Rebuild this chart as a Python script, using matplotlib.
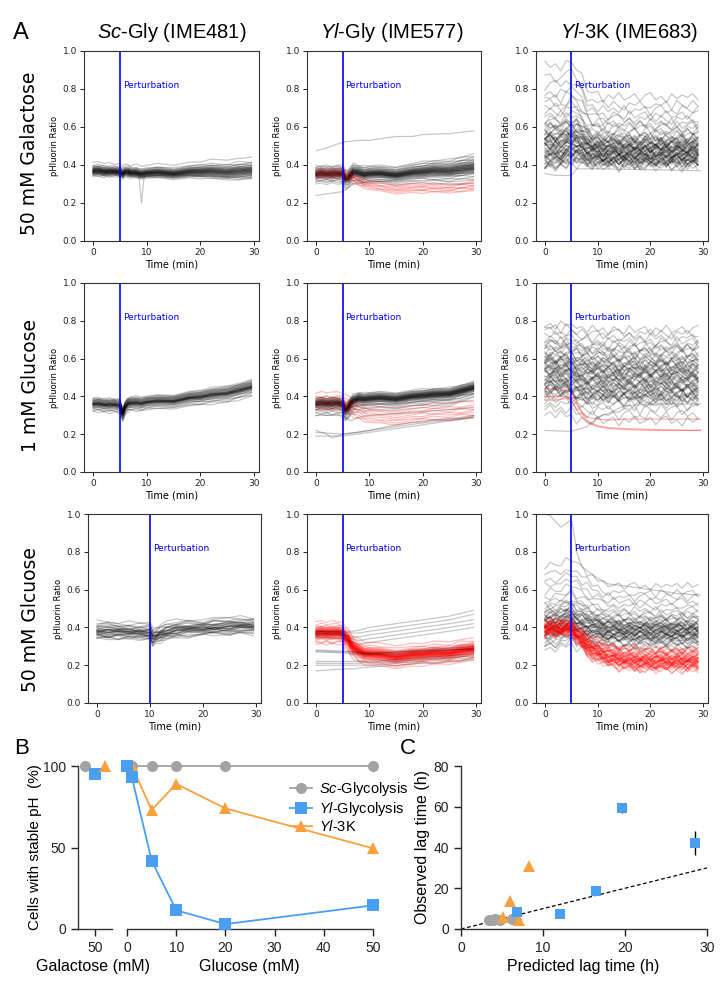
import numpy as np
import matplotlib
matplotlib.use("Agg")
import matplotlib.pyplot as plt

plt.rcParams['font.family'] = ['Liberation Sans', 'DejaVu Sans']
plt.rcParams['mathtext.fontset'] = 'custom'
plt.rcParams['mathtext.rm'] = 'Liberation Sans'
plt.rcParams['mathtext.it'] = 'Liberation Sans:italic'

# ---------------- panel A data (pHluorin ratio traces) ----------------
t5 = [0, 1, 2, 3, 4, 5, 5.5, 6, 6.5, 7, 8, 9, 10, 12, 15, 18, 20, 22, 25, 27, 29.5]
t10 = [0, 2, 4, 6, 8, 10, 10.5, 11, 12, 13, 15, 17, 20, 22, 25, 27, 29.5]
t3k = list(range(30))

# cell-to-cell fluctuation patterns seen in the traces
wiggle_a = [0, .015, -.01, .02, -.005, .01, -.02, .015, .0, -.015, .02, -.01, .005, .015, -.02,
            .01, -.005, .02, -.01, .0, .015, -.015, .01, .02, -.01, .005, -.02, .015, -.005, .01]
wiggle_b = [.01, -.01, .02, -.015, .005, .0, .015, -.02, .01, .02, -.01, .0, -.015, .02, .005,
            -.01, .015, -.02, .01, .02, -.005, .01, -.015, .0, .02, -.01, .01, -.015, .02, -.005]
wiggle_c = [-.01, .005, .0, .015, -.02, .02, .0, -.01, .02, -.005, .01, .015, -.02, .0, .015,
            .02, -.01, .005, -.015, .01, .0, .02, -.01, .015, -.005, -.02, .01, .0, .015, -.01]

# row 1: 50 mM galactose
gal_sc_mean = [0.37, 0.368, 0.366, 0.365, 0.364, 0.362, 0.358, 0.36, 0.362, 0.36, 0.358,
               0.355, 0.356, 0.358, 0.36, 0.362, 0.364, 0.365, 0.366, 0.367, 0.368]
gal_sc_spread = [1, 1, 1, .9, .9, .9, .9, .9, .9, .9, .9, .9, .9, 1, 1, 1.1, 1.2, 1.3, 1.4, 1.5, 1.5]
gal_sc_offsets = [-0.03, -0.025, -0.022, -0.02, -0.018, -0.016, -0.015, -0.013, -0.012, -0.01,
                  -0.009, -0.008, -0.007, -0.006, -0.005, -0.004, -0.003, -0.002, -0.001, 0.0,
                  0.0, 0.001, 0.002, 0.003, 0.004, 0.005, 0.006, 0.007, 0.008, 0.009,
                  0.01, 0.012, 0.013, 0.015, 0.017, 0.02, 0.022, 0.026, 0.03, 0.045]
gal_sc_extra_t = [[0, 5, 8.5, 9, 9.5, 15, 29.5]]
gal_sc_extra_v = [[0.36, 0.36, 0.35, 0.2, 0.34, 0.35, 0.33]]

gal_yl_mean = [0.35, 0.35, 0.35, 0.35, 0.35, 0.35, 0.33, 0.325, 0.345, 0.36, 0.355,
               0.35, 0.35, 0.35, 0.35, 0.355, 0.36, 0.365, 0.37, 0.375, 0.38]
gal_yl_spread = [1, 1, 1, 1, 1, 1, 1, 1, 1, 1, 1, 1, 1, 1, 1, 1.1, 1.2, 1.3, 1.4, 1.5, 1.6]
gal_yl_offsets = [-0.04, -0.03, -0.025, -0.02, -0.018, -0.015, -0.013, -0.011, -0.01, -0.008,
                  -0.007, -0.006, -0.005, -0.004, -0.003, -0.002, -0.001, 0, 0, 0.001,
                  0.002, 0.003, 0.004, 0.005, 0.006, 0.007, 0.008, 0.009, 0.01, 0.011,
                  0.012, 0.013, 0.015, 0.016, 0.018, 0.02, 0.022, 0.025, 0.028, 0.03,
                  0.035, 0.04, -0.05, 0.045, -0.035]
gal_yl_red_mean = [0.35, 0.35, 0.35, 0.35, 0.35, 0.35, 0.34, 0.335, 0.33, 0.325, 0.31,
                   0.3, 0.29, 0.28, 0.275, 0.272, 0.272, 0.274, 0.276, 0.278, 0.28]
gal_yl_red_offsets = [-0.02, -0.012, -0.006, 0, 0.006, 0.012, 0.02, 0.028]
gal_yl_extra_t = [[0, 2, 5, 8, 10, 15, 18, 20, 25, 29.5],
                  [0, 5, 7, 10, 15, 20, 29.5]]
gal_yl_extra_v = [[0.475, 0.49, 0.52, 0.53, 0.53, 0.55, 0.55, 0.56, 0.565, 0.58],
                  [0.24, 0.26, 0.3, 0.31, 0.32, 0.34, 0.36]]

gal_3k_mean = [0.5, 0.5, 0.5, 0.5, 0.51, 0.52, 0.52, 0.5, 0.485, 0.48, 0.475, 0.47, 0.47, 0.47, 0.47,
               0.47, 0.47, 0.47, 0.47, 0.47, 0.47, 0.47, 0.47, 0.47, 0.47, 0.47, 0.47, 0.47, 0.47, 0.47]
gal_3k_spread = [1, 1, 1, 1, 1, 1, .95, .85, .75, .7, .7] + [.68] * 19
gal_3k_offsets = [-0.12, -0.11, -0.1, -0.1, -0.09, -0.09, -0.08, -0.08, -0.07, -0.07,
                  -0.06, -0.06, -0.05, -0.05, -0.04, -0.04, -0.03, -0.03, -0.02, -0.02,
                  -0.01, -0.01, 0, 0, 0.01, 0.01, 0.02, 0.02, 0.03, 0.03,
                  0.04, 0.04, 0.05, 0.05, 0.06, 0.06, 0.07, 0.08, 0.09, 0.1,
                  0.11, 0.12, 0.14, 0.16, 0.18, 0.2, 0.22, 0.25, 0.28, 0.32,
                  0.36, 0.42, 0.0, -0.05, 0.02, 0.04, -0.03, 0.08, -0.06, 0.1]
gal_3k_extra_t = [[0, 2, 5, 6, 10, 29.5]]
gal_3k_extra_v = [[0.355, 0.345, 0.345, 0.38, 0.38, 0.37]]

# row 2: 1 mM glucose
glc1_sc_mean = [0.36, 0.358, 0.356, 0.355, 0.354, 0.35, 0.31, 0.34, 0.36, 0.365, 0.365,
                0.365, 0.368, 0.372, 0.38, 0.39, 0.395, 0.405, 0.42, 0.43, 0.445]
glc1_sc_spread = [1, 1, 1, 1, 1, 1, 1, 1, 1, 1, 1, 1, 1, 1, 1, 1.05, 1.1, 1.15, 1.2, 1.2, 1.2]
glc1_sc_offsets = [-0.03, -0.025, -0.02, -0.018, -0.015, -0.012, -0.01, -0.008, -0.006, -0.005,
                   -0.004, -0.003, -0.002, -0.001, 0, 0, 0.001, 0.002, 0.003, 0.004,
                   0.005, 0.006, 0.008, 0.01, 0.012, 0.014, 0.016, 0.018, 0.02, 0.022,
                   0.025, 0.028, -0.035, 0.032, -0.04]

glc1_yl_mean = [0.36, 0.36, 0.36, 0.36, 0.36, 0.355, 0.33, 0.335, 0.36, 0.375, 0.385,
                0.385, 0.385, 0.387, 0.39, 0.395, 0.4, 0.405, 0.415, 0.425, 0.44]
glc1_yl_spread = [1] * 21
glc1_yl_offsets = [-0.035, -0.03, -0.025, -0.02, -0.018, -0.015, -0.013, -0.011, -0.01, -0.008,
                   -0.007, -0.006, -0.005, -0.004, -0.003, -0.002, -0.001, 0, 0, 0.001,
                   0.002, 0.003, 0.004, 0.005, 0.006, 0.007, 0.008, 0.009, 0.01, 0.011,
                   0.012, 0.013, 0.015, 0.016, 0.018, 0.02, 0.022, 0.025, 0.028, 0.03,
                   -0.05, -0.06, -0.045, 0.035, -0.028]
glc1_yl_red_mean = [0.37, 0.37, 0.37, 0.37, 0.37, 0.37, 0.36, 0.35, 0.34, 0.33, 0.32,
                    0.31, 0.3, 0.295, 0.295, 0.3, 0.305, 0.31, 0.315, 0.318, 0.32]
glc1_yl_red_offsets = [-0.04, -0.03, -0.02, -0.01, 0, 0.01, 0.02, 0.03, 0.05]
glc1_yl_extra_t = [[0, 5, 6.5, 8, 10, 15, 20, 25, 29.5],
                   [0, 2, 3, 5, 8, 10, 15, 20, 25, 29.5],
                   [0, 5, 10, 15, 20, 25, 29.5],
                   [0, 5, 10, 15, 20, 29.5]]
glc1_yl_extra_v = [[0.3, 0.3, 0.27, 0.29, 0.3, 0.31, 0.32, 0.33, 0.34],
                   [0.22, 0.2, 0.18, 0.2, 0.21, 0.22, 0.25, 0.27, 0.28, 0.3],
                   [0.19, 0.19, 0.21, 0.23, 0.25, 0.27, 0.29],
                   [0.21, 0.2, 0.22, 0.24, 0.26, 0.29]]

glc1_3k_mean = [0.52] * 5 + [0.51, 0.5, 0.49] + [0.49] * 22
glc1_3k_spread = [1] * 30
glc1_3k_offsets = [-0.22, -0.19, -0.16, -0.14, -0.12, -0.11, -0.1, -0.09, -0.08, -0.08,
                   -0.07, -0.06, -0.06, -0.05, -0.04, -0.04, -0.03, -0.02, -0.02, -0.01,
                   0, 0, 0.01, 0.02, 0.02, 0.03, 0.04, 0.04, 0.05, 0.06,
                   0.06, 0.07, 0.08, 0.08, 0.09, 0.1, 0.1, 0.11, 0.12, 0.13,
                   0.14, 0.15, 0.16, 0.17, 0.18, 0.2, 0.22, 0.24, 0.26, -0.1,
                   -0.11, -0.09, 0.0, 0.03, 0.05, -0.05, 0.07, -0.03, 0.01, -0.07]
glc1_3k_red_t = [0, 2, 4, 5, 6, 7, 8, 10, 12, 15, 20, 25, 29.5]
glc1_3k_red_v = [[0.4, 0.4, 0.4, 0.39, 0.36, 0.32, 0.29, 0.28, 0.275, 0.28, 0.28, 0.28, 0.28],
                 [0.38, 0.38, 0.39, 0.38, 0.33, 0.29, 0.26, 0.24, 0.23, 0.225, 0.22, 0.22, 0.22],
                 [0.44, 0.44, 0.43, 0.42, 0.37, 0.31, 0.27, 0.245, 0.235, 0.23, 0.225, 0.222, 0.22]]
glc1_3k_extra_t = [[0, 5, 8, 10, 12, 15, 20, 29.5]]
glc1_3k_extra_v = [[0.22, 0.215, 0.24, 0.29, 0.31, 0.35, 0.36, 0.36]]

# row 3: 50 mM glucose
glc50_sc_mean = [0.38, 0.378, 0.376, 0.375, 0.375, 0.372, 0.345, 0.35, 0.365, 0.375,
                 0.385, 0.39, 0.395, 0.4, 0.402, 0.405, 0.405]
glc50_sc_spread = [1] * 17
glc50_sc_offsets = [-0.035, -0.03, -0.025, -0.02, -0.018, -0.015, -0.012, -0.01, -0.008, -0.006,
                    -0.004, -0.002, 0, 0, 0.002, 0.004, 0.006, 0.008, 0.01, 0.012,
                    0.015, 0.018, 0.02, 0.025, 0.03, 0.04, 0.05, -0.04, 0.035, -0.028]

glc50_yl_red_mean = [0.37, 0.37, 0.37, 0.37, 0.37, 0.365, 0.35, 0.33, 0.31, 0.295, 0.275,
                     0.265, 0.258, 0.252, 0.25, 0.252, 0.256, 0.26, 0.268, 0.275, 0.28]
glc50_yl_red_spread = [1] * 21
glc50_yl_red_offsets = [-0.06, -0.045, -0.035, -0.03, -0.028, -0.025, -0.022, -0.02, -0.018, -0.016,
                        -0.015, -0.013, -0.012, -0.01, -0.009, -0.008, -0.007, -0.006, -0.005, -0.004,
                        -0.003, -0.002, -0.001, 0, 0, 0, 0.001, 0.002, 0.003, 0.004,
                        0.005, 0.006, 0.007, 0.008, 0.009, 0.01, 0.012, 0.013, 0.015, 0.016,
                        0.018, 0.02, 0.022, 0.025, 0.028, 0.03, 0.035, 0.045, 0.06, -0.05]
glc50_yl_gray_t = [0, 5, 7, 8, 10, 15, 20, 25, 29.5]
glc50_yl_gray_v = [[0.38, 0.38, 0.38, 0.385, 0.4, 0.42, 0.44, 0.46, 0.49],
                   [0.38, 0.375, 0.37, 0.37, 0.38, 0.4, 0.42, 0.44, 0.47],
                   [0.37, 0.365, 0.35, 0.35, 0.36, 0.38, 0.4, 0.42, 0.44],
                   [0.36, 0.36, 0.34, 0.33, 0.34, 0.36, 0.38, 0.4, 0.42],
                   [0.35, 0.34, 0.32, 0.31, 0.32, 0.34, 0.36, 0.38, 0.4],
                   [0.275, 0.27, 0.27, 0.265, 0.26, 0.27, 0.28, 0.29, 0.3],
                   [0.27, 0.265, 0.26, 0.26, 0.255, 0.26, 0.27, 0.28, 0.29],
                   [0.28, 0.275, 0.27, 0.27, 0.265, 0.27, 0.275, 0.28, 0.285],
                   [0.22, 0.22, 0.22, 0.22, 0.22, 0.23, 0.24, 0.25, 0.26],
                   [0.2, 0.2, 0.2, 0.2, 0.2, 0.21, 0.22, 0.23, 0.24],
                   [0.17, 0.18, 0.18, 0.185, 0.19, 0.2, 0.21, 0.22, 0.23],
                   [0.21, 0.21, 0.21, 0.21, 0.215, 0.22, 0.23, 0.24, 0.25]]

glc50_3k_mean = [0.4, 0.4, 0.4, 0.41, 0.42, 0.43, 0.41, 0.4, 0.395, 0.39, 0.385, 0.38, 0.378,
                 0.375, 0.373] + [0.37] * 15
glc50_3k_spread = [1] * 7 + [.95, .9, .85, .8] + [.75] * 19
glc50_3k_offsets = [-0.12, -0.1, -0.09, -0.08, -0.07, -0.06, -0.05, -0.05, -0.04, -0.04,
                    -0.03, -0.03, -0.02, -0.02, -0.01, -0.01, 0, 0, 0.01, 0.01,
                    0.02, 0.02, 0.03, 0.03, 0.04, 0.04, 0.05, 0.05, 0.06, 0.06,
                    0.07, 0.08, 0.09, 0.1, 0.11, 0.12, 0.14, 0.16, 0.19, 0.22,
                    0.25, 0.28, 0.33, 0.0, 0.02, -0.01, 0.03, 0.05, -0.03, 0.07]
glc50_3k_red_mean = [0.39] * 6 + [0.36, 0.33, 0.3, 0.28, 0.265, 0.255, 0.245, 0.238, 0.232,
                                  0.228, 0.225, 0.223] + [0.22] * 12
glc50_3k_red_spread = [.7] * 6 + [.8, .9] + [1] * 22
glc50_3k_red_offsets = [-0.05, -0.045, -0.04, -0.035, -0.03, -0.028, -0.025, -0.022, -0.02, -0.018,
                        -0.015, -0.012, -0.01, -0.008, -0.006, -0.004, -0.002, 0, 0, 0.002,
                        0.004, 0.006, 0.008, 0.01, 0.012, 0.015, 0.018, 0.02, 0.022, 0.025,
                        0.028, 0.03, 0.035, 0.04, 0.045, 0.05, 0.055, 0.06, 0.07, -0.03]
glc50_3k_extra_t = [[0, 1, 2, 3, 4, 5, 5.5, 6, 7, 8, 10, 12, 15, 20, 25, 29.5]]
glc50_3k_extra_v = [[1.0, 0.99, 0.96, 0.93, 0.95, 0.97, 0.9, 0.8, 0.72, 0.7, 0.66, 0.63, 0.62, 0.6, 0.58, 0.57]]

perturb_time = [5, 5, 5, 5, 5, 5, 10, 5, 5]

# ---------------- panel B data ----------------
gal_conc = 50
gal_sc = 100
gal_yl = 95
gal_3k = 100
glucose_mM = [0, 1, 5, 10, 20, 50]
sc_stable = [100, 100, 100, 100, 100, 100]
yl_stable = [100, 93, 42, 11.5, 3, 14.5]
k3_stable = [100, 100, 73, 89, 74, 49.5]

# ---------------- panel C data ----------------
pred_sc = [3.4, 3.9, 4.1, 4.8, 6.2]
obs_sc = [4.5, 4.3, 4.8, 4.2, 4.8]
pred_yl = [6.8, 12.1, 16.5, 19.6, 28.5]
obs_yl = [8.2, 7.5, 18.6, 59.3, 42.1]
err_yl = [0, 0, 0, 2.3, 5.9]
pred_k3 = [8.3, 6.0, 5.1, 7.1]
obs_k3 = [31.0, 13.9, 5.9, 4.2]
identity = [0, 30]

GRAY = '#a3a3a3'
BLUE = '#4a9ff2'
ORANGE = '#f9a03f'

W, H = 724, 983
fig = plt.figure(figsize=(W / 100, H / 100), dpi=100)


def box(l, t, r, b):
    return [l / W, 1 - b / H, (r - l) / W, (b - t) / H]


wiggles = [np.array(wiggle_a), np.array(wiggle_b), np.array(wiggle_c)]


def draw_band(ax, t, mean, offsets, spread, color, alpha, amp=0.0):
    mean = np.asarray(mean)
    spread = np.asarray(spread)
    n = len(mean)
    for i, o in enumerate(offsets):
        y = mean + o * spread
        if amp:
            y = y + amp * np.roll(wiggles[i % 3][:n], (i * 7) % n)
        ax.plot(t, y, color=color, alpha=alpha, lw=0.9)


col_x = [(84, 259), (307, 481), (536, 708)]
row_y = [(51, 241), (283, 472), (514, 703)]

# (t, mean, offsets, spread, red mean, red offsets, red spread, gray extra t, gray extra v, red extras, wiggle amp)
panels = [
    [(t5, gal_sc_mean, gal_sc_offsets, gal_sc_spread, None, None, None, gal_sc_extra_t, gal_sc_extra_v, [], 0.35),
     (t5, gal_yl_mean, gal_yl_offsets, gal_yl_spread, gal_yl_red_mean, gal_yl_red_offsets, 1,
      gal_yl_extra_t, gal_yl_extra_v, [], 0.35),
     (t3k, gal_3k_mean, gal_3k_offsets, gal_3k_spread, None, None, None, gal_3k_extra_t, gal_3k_extra_v, [], 1.3)],
    [(t5, glc1_sc_mean, glc1_sc_offsets, glc1_sc_spread, None, None, None, [], [], [], 0.35),
     (t5, glc1_yl_mean, glc1_yl_offsets, glc1_yl_spread, glc1_yl_red_mean, glc1_yl_red_offsets, 1,
      glc1_yl_extra_t, glc1_yl_extra_v, [], 0.35),
     (t3k, glc1_3k_mean, glc1_3k_offsets, glc1_3k_spread, None, None, None, glc1_3k_extra_t, glc1_3k_extra_v,
      [(glc1_3k_red_t, v) for v in glc1_3k_red_v], 1.3)],
    [(t10, glc50_sc_mean, glc50_sc_offsets, glc50_sc_spread, None, None, None, [], [], [], 0.5),
     (t5, None, None, None, glc50_yl_red_mean, glc50_yl_red_offsets, glc50_yl_red_spread,
      [glc50_yl_gray_t] * len(glc50_yl_gray_v), glc50_yl_gray_v, [], 0.4),
     (t3k, glc50_3k_mean, glc50_3k_offsets, glc50_3k_spread, glc50_3k_red_mean, glc50_3k_red_offsets,
      glc50_3k_red_spread, glc50_3k_extra_t, glc50_3k_extra_v, [], 1.0)],
]

for r in range(3):
    for c in range(3):
        l, rr = col_x[c]
        if r == 2 and c == 0:
            l, rr = 88, 261
        top, bot = row_y[r]
        ax = fig.add_axes(box(l, top, rr, bot))
        t, mean, offs, spread, rmean, roffs, rspread, ext_t, ext_v, red_extra, amp = panels[r][c]
        if mean is not None:
            draw_band(ax, t, mean, offs, spread, 'black', 0.22, amp)
        if rmean is not None:
            draw_band(ax, t, rmean, roffs, rspread, 'red', 0.25, amp)
        for et, ev in red_extra:
            ax.plot(et, ev, color='red', alpha=0.3, lw=0.9)
        for et, ev in zip(ext_t, ext_v):
            ax.plot(et, ev, color='black', alpha=0.22, lw=0.9)
        pt = perturb_time[r * 3 + c]
        ax.axvline(pt, color='blue', lw=1.2)
        ax.text(pt + 0.5, 0.82, 'Perturbation', color='blue', fontsize=6.5,
                family='DejaVu Sans', va='center')
        ax.set_xlim(-1.7, 30.9)
        ax.set_ylim(0, 1)
        ax.set_xticks([0, 10, 20, 30])
        ax.set_yticks([0, 0.2, 0.4, 0.6, 0.8, 1.0])
        ax.set_yticklabels(['0.0', '0.2', '0.4', '0.6', '0.8', '1.0'])
        ax.tick_params(labelsize=6.5, length=3, width=0.7, pad=2, colors='#222222')
        for lab in ax.get_xticklabels() + ax.get_yticklabels():
            lab.set_family('DejaVu Sans')
        ax.set_xlabel('Time (min)', fontsize=7, family='DejaVu Sans', labelpad=2)
        ax.set_ylabel('pHluorin Ratio', fontsize=6, family='DejaVu Sans', labelpad=3)
        for s in ax.spines.values():
            s.set_linewidth(0.8)
            s.set_color('#333333')

titles = [r'$\mathit{Sc}$-Gly (IME481)', r'$\mathit{Yl}$-Gly (IME577)', r'$\mathit{Yl}$-3K (IME683)']
title_x = [172, 392, 629]
for tx, tt in zip(title_x, titles):
    fig.text(tx / W, 1 - 33 / H, tt, fontsize=14.5, ha='center', va='center')

row_labels = ['50 mM Galactose', '1 mM Glucose', '50 mM Glcuose']
row_cy = [153, 385, 620]
for cy, lab in zip(row_cy, row_labels):
    fig.text(30 / W, 1 - cy / H, lab, rotation=90, fontsize=13.5, ha='center', va='center',
             family='DejaVu Sans')

fig.text(21 / W, 1 - 33 / H, 'A', fontsize=17, ha='center', va='center')
fig.text(22 / W, 1 - 748 / H, 'B', fontsize=16, ha='center', va='center')
fig.text(408 / W, 1 - 748 / H, 'C', fontsize=16, ha='center', va='center')

# ---------------- panel B ----------------
axg = fig.add_axes(box(78, 766, 112, 929))
axc = fig.add_axes(box(127, 766, 373, 929))
mk = dict(clip_on=False, markeredgewidth=0, zorder=5)
axg.plot([gal_conc - 6], [gal_sc], 'o', color=GRAY, ms=8, **mk)
axg.plot([gal_conc], [gal_yl], 's', color=BLUE, ms=8, **mk)
axg.plot([gal_conc + 5.6], [gal_3k], '^', color=ORANGE, ms=9, **mk)
axg.set_xlim(40, 60)
axg.set_ylim(0, 100)
axg.set_xticks([50])
axg.set_yticks([0, 50, 100])

axc.plot(glucose_mM, sc_stable, 'o-', color=GRAY, ms=8, lw=1.3, label=r'$\mathit{Sc}$-Glycolysis', **mk)
axc.plot(glucose_mM, k3_stable, '^-', color=ORANGE, ms=9, lw=1.3, label=r'$\mathit{Yl}$-3K', **mk)
axc.plot(glucose_mM, yl_stable, 's-', color=BLUE, ms=8, lw=1.3, label=r'$\mathit{Yl}$-Glycolysis', **mk)
axc.set_xlim(0, 50)
axc.set_ylim(0, 100)
axc.set_xticks([0, 10, 20, 30, 40, 50])
axc.set_yticks([])

for a in (axg, axc):
    a.spines['top'].set_visible(False)
    a.spines['right'].set_visible(False)
    for s in a.spines.values():
        s.set_color('#333333')
        s.set_linewidth(1.0)
    a.tick_params(labelsize=10, length=5, width=1.0, colors='#222222')
axc.spines['left'].set_visible(False)

h, lb = axc.get_legend_handles_labels()
order = [0, 2, 1]
fig.legend([h[i] for i in order], [lb[i] for i in order], loc='upper left',
           bbox_to_anchor=(283 / W, 1 - 773 / H), frameon=False, fontsize=10.5,
           handlelength=1.5, handletextpad=0.5, labelspacing=0.1, borderpad=0)

fig.text(35 / W, 1 - 847 / H, 'Cells with stable pH  (%)', rotation=90, fontsize=11,
         ha='center', va='center')
fig.text(93 / W, 1 - 967 / H, 'Galactose (mM)', fontsize=11.5, ha='center', va='center')
fig.text(249 / W, 1 - 967 / H, 'Glucose (mM)', fontsize=11.5, ha='center', va='center')

# ---------------- panel C ----------------
axl = fig.add_axes(box(461, 766, 707, 929))
axl.plot(identity, identity, '--', color='black', lw=0.9, dashes=(3, 2))
axl.plot(pred_sc, obs_sc, 'o', color=GRAY, ms=8, **mk)
axl.plot(pred_k3, obs_k3, '^', color=ORANGE, ms=9, **mk)
eb = axl.errorbar(pred_yl, obs_yl, yerr=err_yl, fmt='s', color=BLUE, ms=7.5, ecolor='black',
                  elinewidth=1.0, capsize=4, capthick=1.5, markeredgewidth=0, zorder=5)
for cap in eb[1]:
    cap.set_zorder(7)
axl.set_xlim(0, 30)
axl.set_ylim(0, 80)
axl.set_xticks([0, 10, 20, 30])
axl.set_yticks([0, 20, 40, 60, 80])
axl.spines['top'].set_visible(False)
axl.spines['right'].set_visible(False)
for s in axl.spines.values():
    s.set_color('#333333')
    s.set_linewidth(1.0)
axl.tick_params(labelsize=10, length=5, width=1.0, colors='#222222')
fig.text(423 / W, 1 - 847 / H, 'Observed lag time (h)', rotation=90, fontsize=11.5,
         ha='center', va='center')
fig.text(583 / W, 1 - 967 / H, 'Predicted lag time (h)', fontsize=11.5, ha='center', va='center')

fig.savefig('out.png', dpi=100)
